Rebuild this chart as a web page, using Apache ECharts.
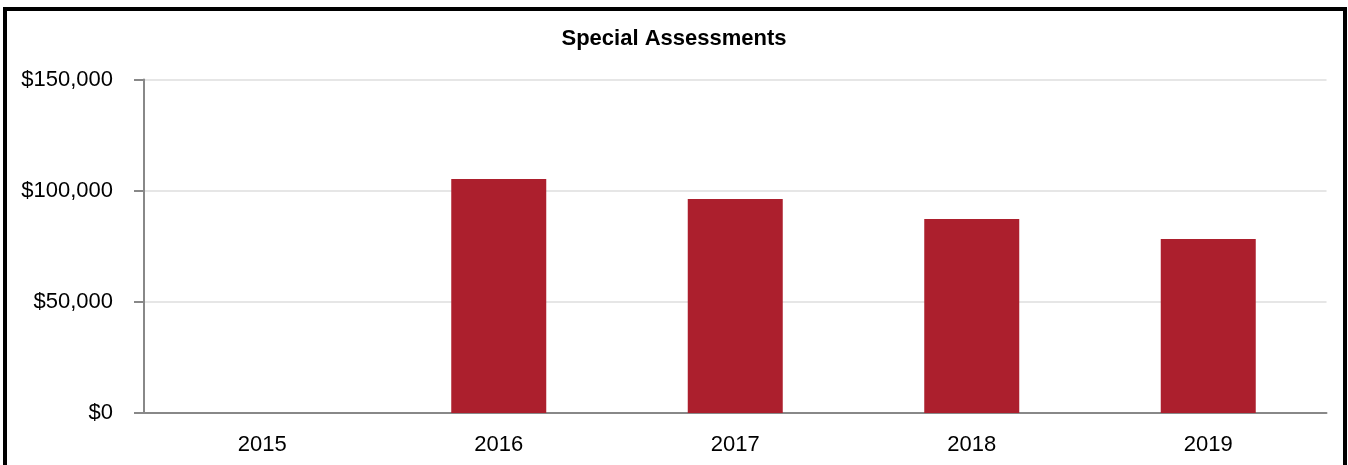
<!DOCTYPE html>
<html>
<head>
<meta charset="utf-8">
<script src="https://cdn.jsdelivr.net/npm/echarts@6/dist/echarts.min.js"></script>
<style>
  html, body { margin: 0; padding: 0; background: #ffffff; overflow: hidden; }
  #chart { position: absolute; left: 0; top: 0; width: 1348px; height: 465px; }
  #frame {
    position: absolute; left: 3px; top: 7px; width: 1336px; height: 470px;
    border: 4px solid #000000; border-bottom: none; pointer-events: none;
  }
</style>
</head>
<body>
<div id="chart"></div>
<div id="frame"></div>
<script>
// Fiscal years shown along the bottom
const years = ['2015', '2016', '2017', '2018', '2019'];
// Special assessment revenue per year, in dollars
const assessments = [0, 105300, 96300, 87300, 78300];
// Value-axis ticks
const yTicks = [0, 50000, 100000, 150000];

const FONT = "'Liberation Sans', Arial, sans-serif";

const chart = echarts.init(document.getElementById('chart'), null, { renderer: 'canvas' });

chart.setOption({
  animation: false,
  backgroundColor: '#ffffff',
  title: {
    text: 'Special Assessments',
    left: 'center',
    top: 23,
    textStyle: { fontFamily: FONT, fontSize: 22, fontWeight: 'bold', color: '#000000' }
  },
  grid: { left: 144, top: 79.5, width: 1182.5, height: 333.5, containLabel: false },
  xAxis: {
    type: 'category',
    data: years,
    axisLine: { show: true, lineStyle: { color: '#888888', width: 2 } },
    axisTick: { show: false },
    axisLabel: { fontFamily: FONT, fontSize: 22, color: '#000000', margin: 21 },
    splitLine: { show: false }
  },
  yAxis: {
    type: 'value',
    min: yTicks[0],
    max: yTicks[yTicks.length - 1],
    interval: yTicks[1] - yTicks[0],
    axisLine: { show: true, lineStyle: { color: '#888888', width: 2 } },
    axisTick: { show: true, length: 10, lineStyle: { color: '#888888', width: 2 } },
    axisLabel: {
      fontFamily: FONT, fontSize: 22, color: '#000000', margin: 31,
      formatter: v => '$' + v.toLocaleString('en-US')
    },
    splitLine: { show: true, lineStyle: { color: '#e6e6e6', width: 2 } }
  },
  series: [{
    type: 'bar',
    data: assessments,
    barWidth: 95,
    itemStyle: { color: '#ac1f2d' }
  }]
});
</script>
</body>
</html>
